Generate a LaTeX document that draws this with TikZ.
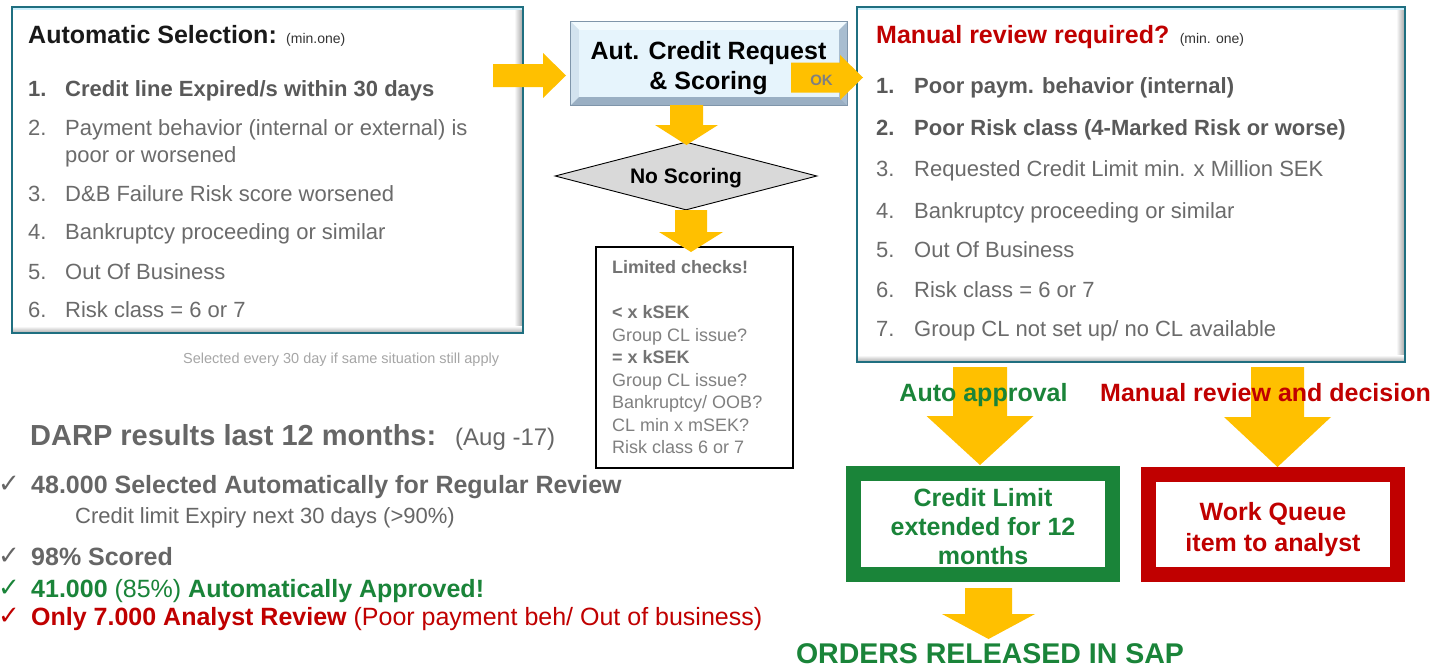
\documentclass[tikz,border=0pt]{standalone}
\usepackage{fontspec}
\setmainfont{Liberation Sans}
\newfontfamily\checkfont{DejaVu Sans}
\usetikzlibrary{shapes.geometric,calc}

\definecolor{ayellow}{HTML}{FFC000}
\definecolor{dgreen}{HTML}{1A8439}
\definecolor{dred}{HTML}{C00000}
\definecolor{boldgray}{HTML}{595959}
\definecolor{txtgray}{HTML}{6B6B6B}
\definecolor{limgray}{HTML}{808080}
\definecolor{notegray}{HTML}{A6A6A6}
\definecolor{darpgray}{HTML}{666666}
\definecolor{boxteal}{HTML}{1F6F80}
\definecolor{face}{HTML}{E6F4FC}
\definecolor{bevtop}{HTML}{F2FAFE}
\definecolor{bevleft}{HTML}{D3E3EF}
\definecolor{bevright}{HTML}{A8BDD0}
\definecolor{bevbottom}{HTML}{9AAFC3}
\definecolor{bevedge}{HTML}{7F95AA}
\definecolor{diagray}{HTML}{D9D9D9}

\newcommand\fsz[1]{\fontsize{#1}{#1}\selectfont}

% white panel with a teal frame and a soft inner shadow on the right and bottom
\newcommand\panelframe[1]{%
  \fill[white] (#1.south west) rectangle (#1.north east);
  \shade[left color=white, right color=gray!75] ($(#1.north east)+(-9,0)$) rectangle (#1.south east);
  \shade[top color=white, bottom color=gray!70] ($(#1.south west)+(0,-7)$) rectangle (#1.south east);
  \fill[cyan!20] (#1.north west) rectangle ($(#1.north east)+(0,3)$);
  \draw[boxteal, line width=2] (#1.south west) rectangle (#1.north east);
}

% bevelled light-blue button
\newcommand\bevelbutton[1]{%
  \fill[face] (#1.south west) rectangle (#1.north east);
  \fill[bevtop] (#1.north west) -- (#1.north east) -- ($(#1.north east)+(-8,8)$) -- ($(#1.north west)+(8,8)$) -- cycle;
  \fill[bevleft] (#1.north west) -- ($(#1.north west)+(8,8)$) -- ($(#1.south west)+(8,-8)$) -- (#1.south west) -- cycle;
  \fill[bevright] (#1.north east) -- (#1.south east) -- ($(#1.south east)+(-8,-8)$) -- ($(#1.north east)+(-8,8)$) -- cycle;
  \fill[bevbottom] (#1.south west) -- ($(#1.south west)+(8,-8)$) -- ($(#1.south east)+(-8,-8)$) -- (#1.south east) -- cycle;
  \draw[bevedge, line width=0.8] (#1.south west) rectangle (#1.north east);
}

% flat yellow block arrows: start, tip, shaft half width, head half width, head length
\newcommand\yellowright[5]{%
  \fill[ayellow] let \p1=(#1), \p2=(#2) in
    (\x1,\y2+#3) -- (\x2-#5,\y2+#3) -- (\x2-#5,\y2+#4) -- (\x2,\y2)
    -- (\x2-#5,\y2-#4) -- (\x2-#5,\y2-#3) -- (\x1,\y2-#3) -- cycle;}
\newcommand\yellowdown[5]{%
  \fill[ayellow] let \p1=(#1), \p2=(#2) in
    (\x2-#3,\y1) -- (\x2+#3,\y1) -- (\x2+#3,\y2+#5) -- (\x2+#4,\y2+#5) -- (\x2,\y2)
    -- (\x2-#4,\y2+#5) -- (\x2-#3,\y2+#5) -- cycle;}

\begin{document}
\begin{tikzpicture}[x=1pt,y=-1pt,
  txt/.style={inner sep=0pt, anchor=base west},
  ctr/.style={inner sep=0pt, anchor=base},
  hd/.style={txt, font=\fsz{25}\bfseries},
  note/.style={txt, font=\fsz{14}, text=black!80},
  it/.style={txt, font=\fsz{22}, text=txtgray},
  itb/.style={txt, font=\fsz{22}\bfseries, text=boldgray},
  lim/.style={txt, font=\fsz{18}, text=limgray},
  limb/.style={txt, font=\fsz{18}\bfseries, text=limgray!90!black},
  big/.style={font=\fsz{25}\bfseries},
  chk/.style={txt, font=\checkfont\fsz{26}},
]
\useasboundingbox (0,0) rectangle (1450,667);
\fill[white] (0,0) rectangle (1450,667);

% ---------- frames ----------
\node[minimum width=511, minimum height=326, inner sep=0] (selbox) at (267.5,170) {};
\panelframe{selbox}
\node[minimum width=548, minimum height=355, inner sep=0] (revbox) at (1131,184.5) {};
\panelframe{revbox}
\node[minimum width=276, minimum height=83, inner sep=0] (acr) at (709,63.5) {};
\bevelbutton{acr}
\node[diamond, draw=black, fill=diagray, line width=0.9, minimum width=262, minimum height=68, inner sep=0] (nosc) at (686,176) {};
\node[draw=black, line width=1.2, fill=white, minimum width=197, minimum height=221, inner sep=0] (limbox) at (694.5,357.5) {};
\node[draw=dgreen, line width=15, fill=white, minimum width=259, minimum height=101, inner sep=0] (greenbox) at (983,524) {};
\node[draw=dred, line width=15, fill=white, minimum width=249, minimum height=100, inner sep=0] (redbox) at (1273,524.5) {};

% ---------- block arrows ----------
\coordinate (selOut) at (493,75.5);   \coordinate (acrIn) at (566,75.5);
\coordinate (okOut) at (791,77.5);    \coordinate (revIn) at (863,77.5);
\coordinate (acrOut) at (686.5,105);  \coordinate (noscIn) at (686.5,145);
\coordinate (noscOut) at (691,210);   \coordinate (limIn) at (691,252);
\coordinate (autoOut) at (980,367);   \coordinate (greenIn) at (980,465);
\coordinate (manOut) at (1277.5,367); \coordinate (redIn) at (1277.5,467);
\coordinate (greenOut) at (988.5,588);\coordinate (sapIn) at (988.5,639);
\yellowright{selOut}{acrIn}{11.5pt}{22.5pt}{23pt}
\yellowright{okOut}{revIn}{15pt}{22.5pt}{23pt}
\yellowdown{acrOut}{noscIn}{16.5pt}{31.5pt}{20pt}
\yellowdown{noscOut}{limIn}{16pt}{32pt}{20pt}
\yellowdown{autoOut}{greenIn}{27pt}{53.5pt}{49pt}
\yellowdown{manOut}{redIn}{26.5pt}{53.5pt}{50pt}
\yellowdown{greenOut}{sapIn}{23.5pt}{46.5pt}{25pt}

% ---------- automatic selection ----------
\node[hd, text=black!90] (selT) at (28,43) {Automatic Selection:};
\node[note] (selTm) at ($(selT.base east)+(9,0)$) {(min.one)};
\node[itb] (s1n) at (28,96) {1.};  \node[itb] (s1t) at (65,96) {Credit line Expired/s within 30 days};
\node[it] (s2n) at (28,135) {2.};  \node[it] (s2t) at (65,135) {Payment behavior (internal or external) is};
\node[it] (s2u) at (65,162) {poor or worsened};
\node[it] (s3n) at (28,201) {3.};  \node[it] (s3t) at (65,201) {D\&B Failure Risk score worsened};
\node[it] (s4n) at (28,239) {4.};  \node[it] (s4t) at (65,239) {Bankruptcy proceeding or similar};
\node[it] (s5n) at (28,279) {5.};  \node[it] (s5t) at (65,279) {Out Of Business};
\node[it] (s6n) at (28,317) {6.};  \node[it] (s6t) at (65,317) {Risk class = 6 or 7};
\node[txt, font=\fsz{14.5}, text=notegray] (selNote) at (183,363) {Selected every 30 day if same situation still apply};

% ---------- scoring ----------
\node[ctr, font=\fsz{25}\bfseries] (acrT1) at (708.5,59) {Aut. Credit Request};
\node[ctr, font=\fsz{25}\bfseries] (acrT2) at (708.5,89) {\& Scoring};
\node[ctr, font=\fsz{15}\bfseries, text=gray] (okT) at (821.5,85) {OK};
\node[ctr, font=\fsz{21}\bfseries] (noscT) at (686,183.5) {No Scoring};

% ---------- limited checks ----------
\node[limb] (l1) at (612,273.5) {Limited checks!};
\node[limb] (l2) at (612,318.5) {< x kSEK};
\node[lim]  (l3) at (612,341.5) {Group CL issue?};
\node[limb] (l4) at (612,363.5) {= x kSEK};
\node[lim]  (l5) at (612,386) {Group CL issue?};
\node[lim]  (l6) at (612,408.5) {Bankruptcy/ OOB?};
\node[lim]  (l7) at (612,431) {CL min x mSEK?};
\node[lim]  (l8) at (612,453.5) {Risk class 6 or 7};

% ---------- manual review ----------
\node[hd, text=dred] (revT) at (876,43) {Manual review required?};
\node[note] (revTm) at ($(revT.base east)+(10,0)$) {(min. one)};
\node[itb] (r1n) at (876,93) {1.};  \node[itb] (r1t) at (914,93) {Poor paym. behavior (internal)};
\node[itb] (r2n) at (876,135) {2.}; \node[itb] (r2t) at (914,135) {Poor Risk class (4-Marked Risk or worse)};
\node[it] (r3n) at (876,176) {3.};  \node[it] (r3t) at (914,176) {Requested Credit Limit min. x Million SEK};
\node[it] (r4n) at (876,218) {4.};  \node[it] (r4t) at (914,218) {Bankruptcy proceeding or similar};
\node[it] (r5n) at (876,257) {5.};  \node[it] (r5t) at (914,257) {Out Of Business};
\node[it] (r6n) at (876,297) {6.};  \node[it] (r6t) at (914,297) {Risk class = 6 or 7};
\node[it] (r7n) at (876,336) {7.};  \node[it] (r7t) at (914,336) {Group CL not set up/ no CL available};

% ---------- outcomes ----------
\node[ctr, big, text=dgreen] (autoT) at (983.5,401) {Auto approval};
\node[ctr, big, text=dred] (manT) at (1265.5,401) {Manual review and decision};
\node[ctr, big, text=dgreen] (g1) at (983,506) {Credit Limit};
\node[ctr, big, text=dgreen] (g2) at (983,535) {extended for 12};
\node[ctr, big, text=dgreen] (g3) at (983,564) {months};
\node[ctr, big, text=dred] (w1) at (1273,520) {Work Queue};
\node[ctr, big, text=dred] (w2) at (1273,551) {item to analyst};
\node[ctr, font=\fsz{28.5}\bfseries, text=dgreen] (sapT) at (990,663) {ORDERS RELEASED IN SAP};

% ---------- results ----------
\node[txt, font=\fsz{29}\bfseries, text=darpgray] (darp) at (30,445) {DARP results last 12 months:};
\node[txt, font=\fsz{24}, text=darpgray] (darpD) at (455,445) {(Aug -17)};
\node[chk, text=darpgray] (c1) at (-2,492) {✓};
\node[txt, font=\fsz{25}\bfseries, text=darpgray] (res1) at (31,493) {48.000 Selected Automatically for Regular Review};
\node[txt, font=\fsz{22}, text=darpgray] (res1b) at (75,523) {Credit limit Expiry next 30 days (>90\%)};
\node[chk, text=darpgray] (c2) at (-2,564) {✓};
\node[txt, font=\fsz{25}\bfseries, text=darpgray] (res2) at (31,565) {98\% Scored};
\node[chk, text=dgreen] (c3) at (-2,596) {✓};
\node[txt, font=\fsz{25}, text=dgreen] (res3) at (31,597) {\textbf{41.000} (85\%) \textbf{Automatically Approved!}};
\node[chk, text=dred] (c4) at (-2,624) {✓};
\node[txt, font=\fsz{25}, text=dred] (res4) at (31,625) {\textbf{Only 7.000 Analyst Review} (Poor payment beh/ Out of business)};
\end{tikzpicture}
\end{document}
